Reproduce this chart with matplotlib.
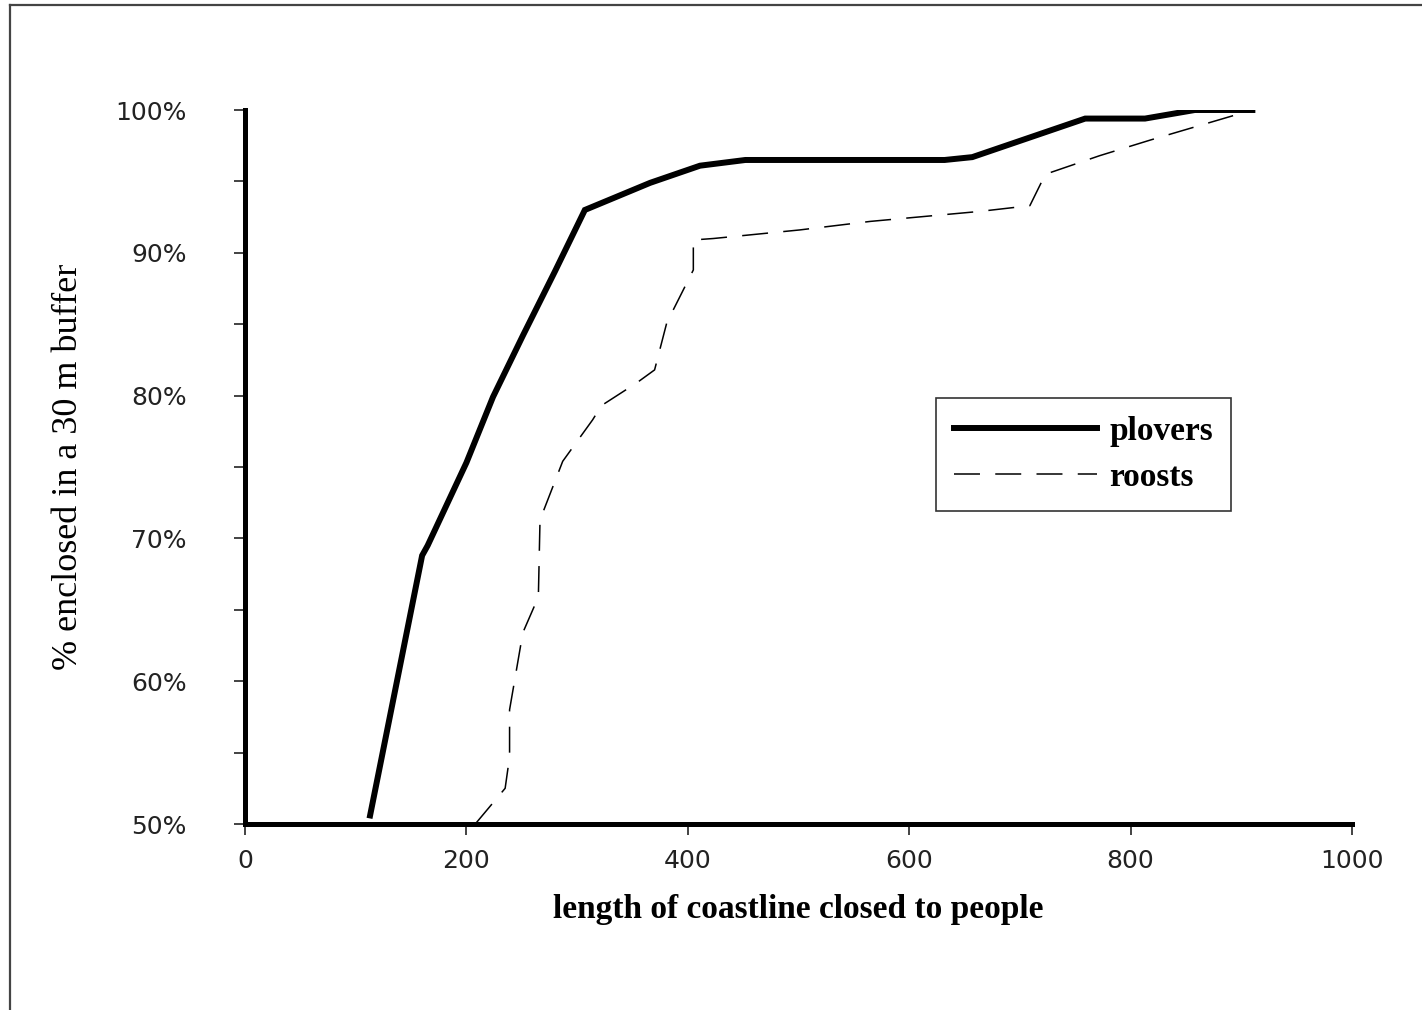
import numpy as np
import matplotlib
matplotlib.use("Agg")
import matplotlib.pyplot as plt
from matplotlib.lines import Line2D

# data (x = length of coastline, y = % enclosed)
plover_x = [113, 160, 165, 200, 224, 251, 280, 307, 366, 411, 452, 632, 657, 759, 813, 858, 910]
plover_y = [50.6, 68.8, 69.5, 75.3, 79.9, 84.2, 88.7, 93.0, 94.9, 96.1, 96.5, 96.5, 96.7, 99.4, 99.4, 100.0, 100.0]

roost_x = [208, 235, 239, 239, 251, 265, 266.5, 278, 287, 314, 322, 354, 370, 381,
           405, 405, 423, 501, 565, 664, 709, 723, 772, 818, 910]
roost_y = [50.0, 52.5, 54.7, 58.0, 63.4, 65.9, 71.3, 73.6, 75.4, 78.3, 79.3, 80.9, 81.8, 85.1,
           88.8, 90.9, 91.0, 91.6, 92.2, 92.9, 93.3, 95.5, 96.8, 97.9, 100.0]

x_ticks = [0, 200, 400, 600, 800, 1000]
y_ticks = [50, 60, 70, 80, 90, 100]
y_labels = ["50%", "60%", "70%", "80%", "90%", "100%"]

fig = plt.figure(figsize=(14.22, 10.10), dpi=100)
ax = fig.add_axes([245/1422, 1-824/1010, (1352-245)/1422, (824-110)/1010])

ax.plot(plover_x, plover_y, color="black", lw=4.3, solid_joinstyle="miter", label="plovers")
ax.plot(roost_x, roost_y, color="black", lw=1.1, dashes=(17, 10), label="roosts")

ax.set_xlim(0, 1000)
ax.set_ylim(50, 100)
for s in ["top", "right"]:
    ax.spines[s].set_visible(False)
for s in ["left", "bottom"]:
    ax.spines[s].set_linewidth(3.6)
ax.spines["bottom"].set_zorder(5)

ax.set_xticks(x_ticks)
ax.set_yticks(y_ticks)
ax.set_yticks(np.arange(55, 100, 10), minor=True)
ax.set_yticklabels(y_labels)
ax.tick_params(axis="both", which="both", direction="out", length=8, width=1.2, color="#222222")
ax.tick_params(axis="y", labelsize=18, pad=34, labelcolor="#222222")
ax.tick_params(axis="x", labelsize=18, pad=10, labelcolor="#222222")
for lab in ax.get_xticklabels() + ax.get_yticklabels():
    lab.set_fontfamily("DejaVu Sans")

ax.set_xlabel("length of coastline closed to people", fontsize=24, fontweight="bold",
              family="Liberation Serif", labelpad=15)
ax.set_ylabel("% enclosed in a 30 m buffer", fontsize=26, family="Liberation Serif", labelpad=22)

leg = ax.legend(loc="upper left", bbox_to_anchor=(0.624, 0.597), borderaxespad=0,
                fancybox=False, frameon=True, edgecolor="black", handlelength=4.3,
                handletextpad=0.35, borderpad=0.55, labelspacing=0.45,
                prop={"family": "Liberation Serif", "weight": "bold", "size": 24})
leg.get_frame().set_linewidth(1.2)

# outer border of the original figure
fig.add_artist(Line2D([10/1422, 10/1422], [0, 1-5/1010], color="#444444", lw=1.6))
fig.add_artist(Line2D([10/1422, 1], [1-5/1010, 1-5/1010], color="#444444", lw=1.6))

fig.savefig("out.png", dpi=100, facecolor="white")
